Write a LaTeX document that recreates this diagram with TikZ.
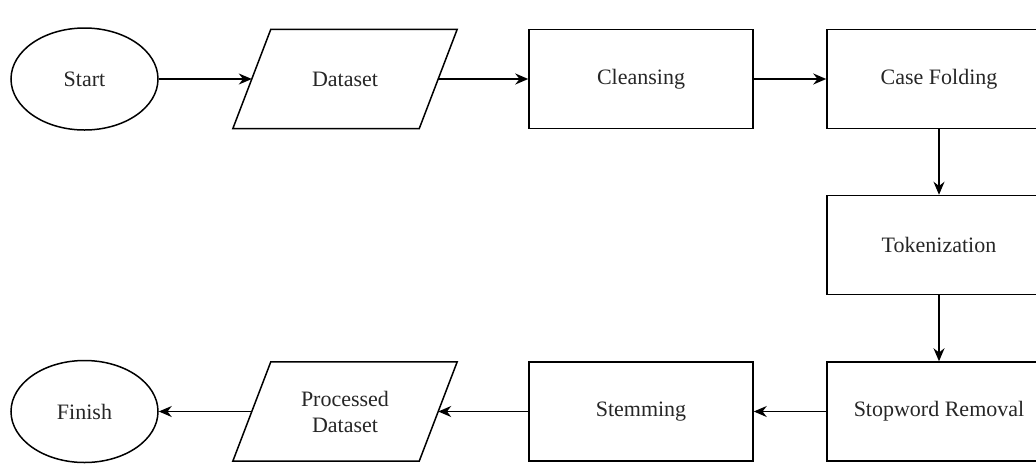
\documentclass[tikz,border=0pt]{standalone}
\usepackage{fontspec}
\setmainfont{Liberation Serif}
\usetikzlibrary{shapes.geometric,arrows.meta,calc}
\begin{document}
\begin{tikzpicture}[x=1pt,y=-1pt,
  every node/.style={font=\fontsize{22}{26}\selectfont, text=black!85},
  line/.style={line width=1.5pt},
  proc/.style={draw, line, minimum width=224pt, minimum height=99pt, inner sep=0pt},
  term/.style={draw, line, ellipse, minimum width=147pt, minimum height=102pt, inner sep=0pt},
  io/.style={minimum width=186pt, minimum height=99pt, inner sep=0pt, align=center},
  flow/.style={line, -{Stealth[length=13pt,width=11pt]}}]
\useasboundingbox (0,0) rectangle (1036,472);
\node[term] (start) at (84.5,79) {Start};
\node[io] (data) at (345,79) {Dataset};
\node[proc] (clean) at (641,79) {Cleansing};
\node[proc] (case) at (939,79) {Case Folding};
\node[proc] (tok) at (939,245) {Tokenization};
\node[proc] (stop) at (939,411.5) {Stopword Removal};
\node[proc] (stem) at (641,411.5) {Stemming};
\node[io] (proc) at (345,411.5) {Processed\\Dataset};
\node[term] (fin) at (84.5,411.5) {Finish};
\foreach \n in {data,proc}{
  \draw[line, line join=miter] ($(\n.north west)+(19,0)$) -- ($(\n.north east)+(19,0)$)
    -- ($(\n.south east)-(19,0)$) -- ($(\n.south west)-(19,0)$) -- cycle;
}
\draw[flow] (start) -- (data);
\draw[flow] (data) -- (clean);
\draw[flow] (clean) -- (case);
\draw[flow] (case) -- (tok);
\draw[flow] (tok) -- (stop);
\draw[flow] (stop) -- (stem);
\draw[flow] (stem) -- (proc);
\draw[flow] (proc) -- (fin);
\end{tikzpicture}
\end{document}
